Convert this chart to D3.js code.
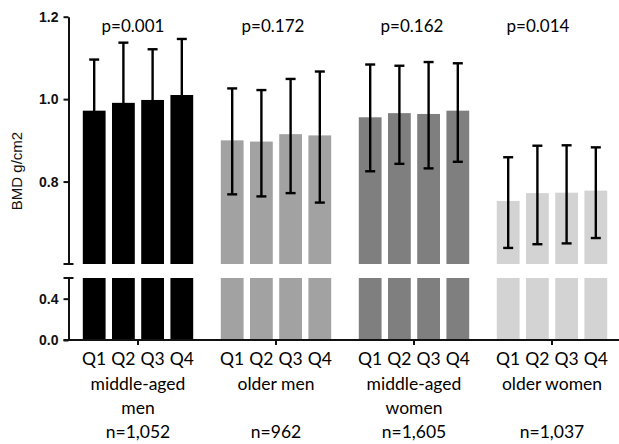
<!DOCTYPE html>
<html>
<head>
<meta charset="utf-8">
<script src="https://cdn.jsdelivr.net/npm/d3@7"></script>
<style>
  body { margin: 0; background: #fff; }
  svg { display: block; }
  .yAxis text { font-family: "Liberation Sans", Arial, sans-serif; font-weight: bold; font-size: 14px; fill: #111; }
  .lbl { font-family: Lato, "Open Sans", sans-serif; fill: #000; }
</style>
</head>
<body>
<svg id="chart" width="619" height="444"></svg>
<script>
// groups of the chart and their labels
var groups = ["middle-aged men", "older men", "middle-aged women", "older women"];
var groupLines = [["middle-aged", "men"], ["older men"], ["middle-aged", "women"], ["older women"]];
var groupN = ["n=1,052", "n=962", "n=1,605", "n=1,037"];
var pValues = ["p=0.001", "p=0.172", "p=0.162", "p=0.014"];
var quartiles = ["Q1", "Q2", "Q3", "Q4"];
var groupColors = ["#000000", "#a2a2a2", "#7f7f7f", "#d3d3d3"];

// mean BMD per quartile, one row per group
var meanBMD = [
    [0.972, 0.991, 0.998, 1.010],
    [0.900, 0.897, 0.915, 0.912],
    [0.956, 0.966, 0.964, 0.972],
    [0.753, 0.772, 0.773, 0.778]
];
// top of error bar
var errHigh = [
    [1.096, 1.137, 1.121, 1.146],
    [1.026, 1.022, 1.049, 1.067],
    [1.084, 1.081, 1.090, 1.087],
    [0.859, 0.887, 0.888, 0.883]
];
// bottom of error bar
var errLow = [
    [0.848, 0.845, 0.875, 0.874],
    [0.769, 0.764, 0.772, 0.749],
    [0.825, 0.843, 0.832, 0.848],
    [0.639, 0.648, 0.650, 0.663]
];

var upperTicks = [0.8, 1.0, 1.2];
var lowerTicks = [0.0, 0.4];
var breakValue = 0.6;

var svg = d3.select("#chart");

var x0 = d3.scaleBand()
    .domain(groups)
    .range([69, 621])
    .paddingInner(0.2)
    .paddingOuter(0.1);

var x1 = d3.scaleBand()
    .domain(quartiles)
    .range([0, x0.bandwidth()])
    .paddingInner(0.22);

// broken y axis: two linear pieces
var yUpper = d3.scaleLinear().domain([breakValue, 1.2]).range([264, 16.7]);
var yLower = d3.scaleLinear().domain([0, breakValue]).range([340, 278]);

// flatten rows for binding
var rows = [];
groups.forEach((g, gi) => {
    quartiles.forEach((q, qi) => {
        rows.push({group: g, gi: gi, q: q, mean: meanBMD[gi][qi], hi: errHigh[gi][qi], lo: errLow[gi][qi]});
    });
});

var barX = d => x0(d.group) + x1(d.q);

// upper bar pieces
svg.append("g").selectAll("rect")
    .data(rows)
    .enter().append("rect")
    .attr("x", barX)
    .attr("width", x1.bandwidth())
    .attr("y", d => yUpper(d.mean))
    .attr("height", d => yUpper(breakValue) - yUpper(d.mean))
    .attr("fill", d => groupColors[d.gi]);

// lower bar pieces (full height below the break)
svg.append("g").selectAll("rect")
    .data(rows)
    .enter().append("rect")
    .attr("x", barX)
    .attr("width", x1.bandwidth())
    .attr("y", yLower(breakValue))
    .attr("height", yLower(0) - yLower(breakValue))
    .attr("fill", d => groupColors[d.gi]);

// error bars
var err = svg.append("g")
    .attr("stroke", "#000")
    .attr("stroke-width", 2.4)
    .selectAll("g")
    .data(rows)
    .enter().append("g")
    .attr("transform", d => "translate(" + (barX(d) + x1.bandwidth() / 2) + ",0)");

err.append("line")
    .attr("y1", d => yUpper(d.lo))
    .attr("y2", d => yUpper(d.hi));
err.append("line")
    .attr("x1", -5).attr("x2", 5)
    .attr("y1", d => yUpper(d.hi)).attr("y2", d => yUpper(d.hi));
err.append("line")
    .attr("x1", -5).attr("x2", 5)
    .attr("y1", d => yUpper(d.lo)).attr("y2", d => yUpper(d.lo));

// y axes
var axX = 68.5;
var fmt = d3.format(".1f");
svg.append("g")
    .attr("class", "yAxis")
    .attr("transform", "translate(" + axX + ",0)")
    .call(d3.axisLeft(yUpper).tickValues(upperTicks).tickFormat(fmt).tickSize(5).tickPadding(5).tickSizeOuter(0));
svg.append("g")
    .attr("class", "yAxis")
    .attr("transform", "translate(" + axX + ",0)")
    .call(d3.axisLeft(yLower).tickValues(lowerTicks).tickFormat(fmt).tickSize(5).tickPadding(5).tickSizeOuter(0));

svg.selectAll(".yAxis path, .yAxis line").attr("stroke", "#111").attr("stroke-width", 2);

// break marks at the ends of the two axis pieces
[yUpper(breakValue), yLower(breakValue)].forEach(yy => {
    svg.append("line")
        .attr("x1", axX - 5).attr("x2", axX + 5)
        .attr("y1", yy).attr("y2", yy)
        .attr("stroke", "#111").attr("stroke-width", 2);
});

// x axis
var xAxis = svg.append("g")
    .attr("transform", "translate(0," + yLower(0) + ")")
    .call(d3.axisBottom(x0).tickSize(5).tickSizeOuter(0).tickFormat(""));
xAxis.select(".domain").attr("stroke", "#111").attr("stroke-width", 2).attr("d", "M" + (axX - 5) + ",0H621");
xAxis.selectAll(".tick line").attr("stroke", "#111").attr("stroke-width", 2);

// quartile labels under each bar
svg.append("g").selectAll("text")
    .data(rows)
    .enter().append("text")
    .attr("class", "lbl")
    .attr("x", d => barX(d) + x1.bandwidth() / 2)
    .attr("y", 365)
    .attr("text-anchor", "middle")
    .style("font-size", "17.5px")
    .text(d => d.q);

// group names
groups.forEach((g, gi) => {
    var cx = x0(g) + x0.bandwidth() / 2;
    groupLines[gi].forEach((line, li) => {
        svg.append("text")
            .attr("class", "lbl")
            .attr("x", cx)
            .attr("y", 390 + li * 24)
            .attr("text-anchor", "middle")
            .style("font-size", "17.5px")
            .text(line);
    });
    svg.append("text")
        .attr("class", "lbl")
        .attr("x", cx)
        .attr("y", 438)
        .attr("text-anchor", "middle")
        .style("font-size", "17.5px")
        .text(groupN[gi]);
});

// p values above groups
var pNudge = [-5, -3, -2, -14];
svg.append("g").selectAll("text")
    .data(pValues)
    .enter().append("text")
    .attr("class", "lbl")
    .attr("x", (d, i) => x0(groups[i]) + x0.bandwidth() / 2 + pNudge[i])
    .attr("y", 32)
    .attr("text-anchor", "middle")
    .style("font-size", "17px")
    .text(d => d);

// y axis title
svg.append("text")
    .attr("transform", "translate(22,171) rotate(-90)")
    .attr("text-anchor", "middle")
    .style("font-family", "'Liberation Sans', Arial, sans-serif")
    .style("font-size", "15px")
    .attr("fill", "#111")
    .text("BMD g/cm2");
</script>
</body>
</html>
